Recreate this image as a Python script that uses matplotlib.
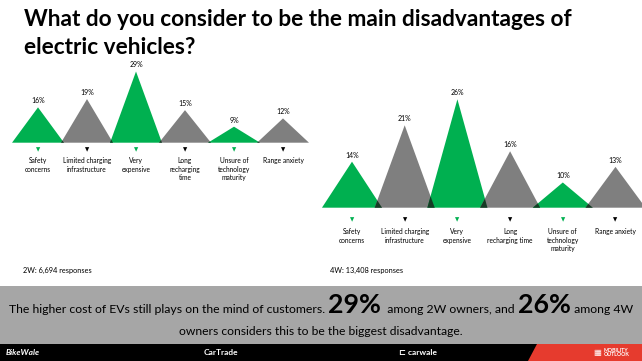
import matplotlib.pyplot as plt
from matplotlib.patches import Rectangle, Polygon

plt.rcParams['font.family'] = ['Lato', 'DejaVu Sans']

# survey data
categories_2w = ["Safety\nconcerns", "Limited charging\ninfrastructure", "Very\nexpensive",
                 "Long\nrecharging\ntime", "Unsure of\ntechnology\nmaturity", "Range anxiety"]
values_2w = [16, 19, 29, 15, 9, 12]

categories_4w = ["Safety\nconcerns", "Limited charging\ninfrastructure", "Very\nexpensive",
                 "Long\nrecharging time", "Unsure of\ntechnology\nmaturity", "Range anxiety"]
values_4w = [14, 21, 26, 16, 10, 13]

responses_2w = "2W: 6,694 responses"
responses_4w = "4W: 13,408 responses"

title_lines = ["What do you consider to be the main disadvantages of", "electric vehicles?"]
band_pieces = [("The higher cost of EVs still plays on the mind of customers. ", 8.8, 'normal'),
               ("29%", 19.3, 'bold'),
               ("  among 2W owners, and ", 8.8, 'normal'),
               ("26%", 19.3, 'bold'),
               (" among 4W", 8.8, 'normal')]
band_line2 = "owners considers this to be the biggest disadvantage."

GREEN = '#00b050'
GREY = '#7f7f7f'
DARK = '#163b25'

W, H = 642, 361
fig = plt.figure(figsize=(W / 100, H / 100), dpi=100)
fig.patch.set_facecolor('white')

bg = fig.add_axes([0, 0, 1, 1])
bg.set_xlim(0, W)
bg.set_ylim(H, 0)
bg.axis('off')


def px_axes(left, top, width, height):
    return fig.add_axes([left / W, 1 - (top + height) / H, width / W, height / H])


def draw_peaks(ax, values, labels, base, half, marker_off, label_off):
    for i, v in enumerate(values):
        color = GREEN if i % 2 == 0 else GREY
        ax.fill([i - half, i, i + half], [base, v, base], color=color, lw=0, zorder=2)
        ax.annotate(f"{v}%", (i, v), xytext=(0, 6.5), textcoords='offset pixels',
                    ha='center', va='center', fontsize=5, annotation_clip=False)
        ax.annotate("▼", (i, base), xytext=(0, -marker_off), textcoords='offset pixels',
                    ha='center', va='center', fontsize=4, family='DejaVu Sans',
                    color=GREEN if i % 2 == 0 else 'black', annotation_clip=False)
        ax.annotate(labels[i], (i, base), xytext=(0, -label_off), textcoords='offset pixels',
                    ha='center', va='top', fontsize=4.8, linespacing=1.25,
                    annotation_clip=False)
    # darker sliver where neighbouring peaks overlap
    for i in range(len(values) - 1):
        a = 1 / (values[i] - base)
        c = 1 / (values[i + 1] - base)
        dy = (2 * half - 1) / (half * (a + c))
        if dy <= 0:
            continue
        x = i + half * (1 - dy * a)
        ax.fill([i + 1 - half, x, i + half], [base, base + dy, base], color=DARK, lw=0, zorder=3)


# 2W chart
ax1 = px_axes(0, 142.7 - 90, 320, 90)
ax1.set_xlim(-38 / 49, (320 - 38) / 49)
ax1.set_ylim(3.2, 3.2 + 90 / 2.76)
ax1.axis('off')
draw_peaks(ax1, values_2w, categories_2w, 3.2, 0.53, 7.3, 14.5)

# 4W chart
ax2 = px_axes(300, 207.7 - 130, 342, 130)
ax2.set_xlim(-52 / 52.7, (342 - 52) / 52.7)
ax2.set_ylim(5.15, 5.15 + 130 / 5.2)
ax2.axis('off')
draw_peaks(ax2, values_4w, categories_4w, 5.15, 0.57, 12.3, 20.5)

# title
bg.text(24, 26.5, title_lines[0], fontsize=16.3, fontweight='bold', va='baseline')
bg.text(24, 53.5, title_lines[1], fontsize=16.3, fontweight='bold', va='baseline')

bg.text(23, 270, responses_2w, fontsize=5.3, va='center')
bg.text(330, 270, responses_4w, fontsize=5.3, va='center')

# summary band and footer
bg.add_patch(Rectangle((0, 286), W, 58, color='#a6a6a6', lw=0))
bg.add_patch(Rectangle((0, 344), W, 17, color='black', lw=0))
bg.add_patch(Polygon([(537, 344), (W, 344), (W, H), (528, H)], color='#e63b2e', lw=0))

renderer = fig.canvas.get_renderer()
x = 0
texts = []
for s, size, weight in band_pieces:
    t = bg.text(x, 313, s, fontsize=size, fontweight=weight, va='baseline', ha='left')
    w = t.get_window_extent(renderer).width
    texts.append(t)
    x += w
shift = W / 2 - x / 2
for t in texts:
    t.set_x(t.get_position()[0] + shift)

bg.text(W / 2, 335, band_line2, fontsize=8.7, ha='center', va='baseline')

bg.text(6, 352.5, "BikeWale", color='white', fontsize=6, fontweight='bold', style='italic', va='center')
bg.text(221, 352.5, "CarTrade", color='white', fontsize=6, fontweight='bold', ha='center', va='center')
bg.text(418, 352.5, "⊏ carwale", color='white', fontsize=6, fontweight='bold', ha='center', va='center',
        family=['Lato', 'DejaVu Sans'])
bg.text(597, 352.5, "▦", color='white', fontsize=6, family='DejaVu Sans', ha='center', va='center')
bg.text(604, 352.5, "MOBILITY\nOUTLOOK", color='white', fontsize=3.8, fontweight='bold',
        va='center', linespacing=0.95)

fig.savefig('out.png', dpi=100)
